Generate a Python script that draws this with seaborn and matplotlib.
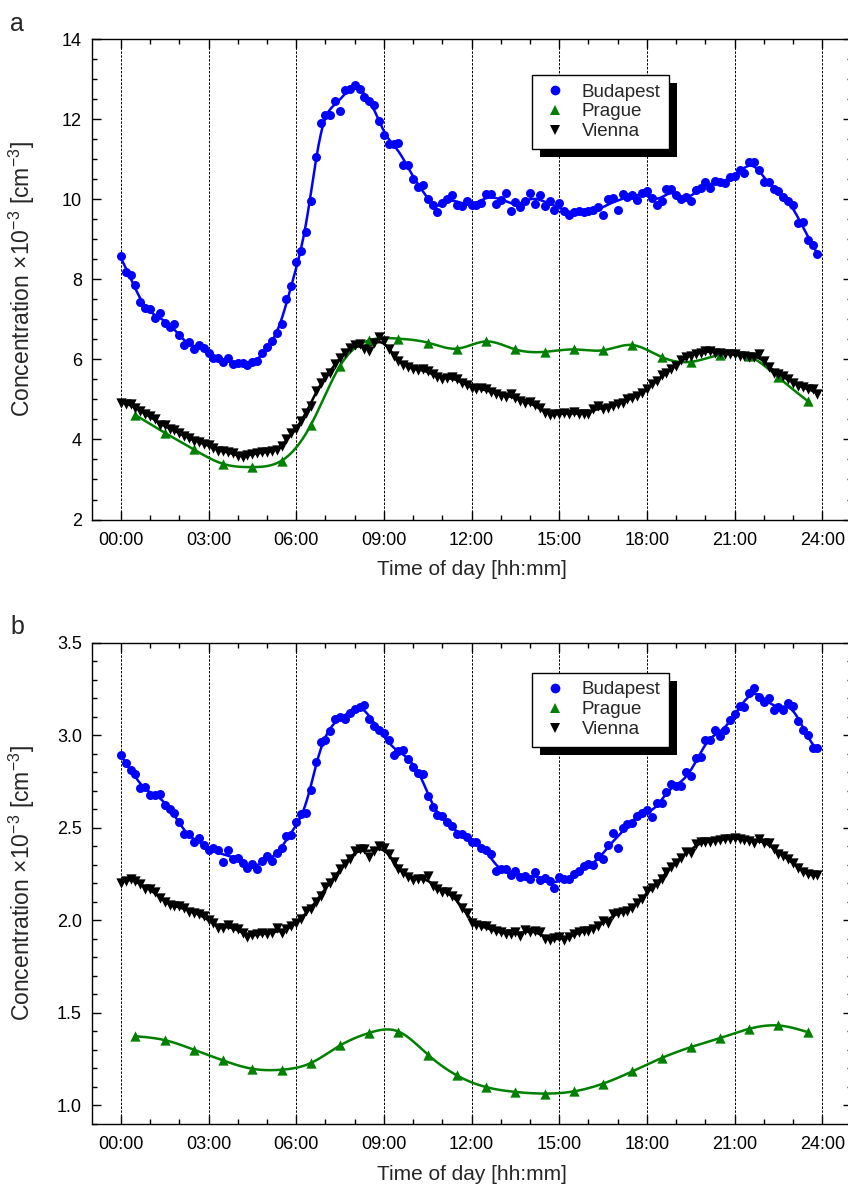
import numpy as np
import matplotlib
matplotlib.use("Agg")
import matplotlib.pyplot as plt
import seaborn as sns
from matplotlib.lines import Line2D
from matplotlib.patches import Rectangle
from matplotlib.ticker import MultipleLocator, FixedLocator, FuncFormatter

# ---------------------------------------------------------------------------
# Diurnal profiles: 10-minute means (00:00 ... 23:50) for Budapest and Vienna,
# hourly means (centred on xx:30) for Prague.
# ---------------------------------------------------------------------------
t10 = np.arange(144) / 6.0
t60 = np.arange(24) + 0.5

budapest_a = [
    8.58, 8.19, 8.12, 7.86, 7.43, 7.28, 7.25, 7.03, 7.17, 6.91, 6.80, 6.88,
    6.61, 6.37, 6.44, 6.27, 6.36, 6.28, 6.17, 6.03, 6.03, 5.93, 6.03, 5.88,
    5.90, 5.90, 5.86, 5.94, 5.95, 6.17, 6.31, 6.46, 6.66, 6.88, 7.50, 7.84,
    8.44, 8.70, 9.18, 9.96, 11.05, 11.92, 12.12, 12.10, 12.47, 12.22, 12.74, 12.77,
    12.86, 12.77, 12.56, 12.46, 12.36, 11.96, 11.62, 11.38, 11.38, 11.41, 10.87, 10.86,
    10.52, 10.32, 10.35, 10.02, 9.86, 9.68, 9.91, 10.00, 10.11, 9.87, 9.83, 9.97,
    9.86, 9.87, 9.92, 10.14, 10.14, 9.88, 9.99, 10.17, 9.72, 9.93, 9.82, 9.95,
    10.16, 9.88, 10.12, 9.83, 9.97, 9.74, 9.92, 9.72, 9.61, 9.68, 9.72, 9.68,
    9.72, 9.74, 9.82, 9.61, 10.01, 10.03, 9.74, 10.14, 10.06, 10.12, 9.99, 10.16,
    10.22, 10.03, 9.87, 9.96, 10.25, 10.25, 10.12, 10.02, 10.07, 9.96, 10.24, 10.29,
    10.43, 10.29, 10.47, 10.43, 10.41, 10.57, 10.59, 10.74, 10.66, 10.93, 10.93, 10.74,
    10.43, 10.43, 10.25, 10.20, 10.06, 9.97, 9.85, 9.40, 9.43, 8.99, 8.87, 8.64,
]

vienna_a = [
    4.92, 4.88, 4.88, 4.79, 4.71, 4.63, 4.58, 4.50, 4.37, 4.36, 4.25, 4.24,
    4.17, 4.08, 4.04, 3.97, 3.94, 3.89, 3.86, 3.79, 3.72, 3.71, 3.69, 3.67,
    3.58, 3.56, 3.61, 3.64, 3.67, 3.68, 3.69, 3.72, 3.73, 3.83, 4.00, 4.17,
    4.25, 4.46, 4.67, 4.84, 5.21, 5.42, 5.55, 5.67, 5.88, 6.03, 6.17, 6.28,
    6.36, 6.38, 6.25, 6.20, 6.42, 6.55, 6.45, 6.25, 6.09, 5.95, 5.86, 5.81,
    5.77, 5.73, 5.75, 5.71, 5.63, 5.56, 5.50, 5.53, 5.56, 5.50, 5.42, 5.36,
    5.29, 5.25, 5.29, 5.25, 5.19, 5.14, 5.09, 5.06, 5.14, 5.03, 4.96, 4.92,
    4.94, 4.85, 4.79, 4.67, 4.61, 4.64, 4.64, 4.67, 4.64, 4.69, 4.64, 4.63,
    4.63, 4.75, 4.83, 4.75, 4.79, 4.83, 4.89, 4.92, 5.00, 5.04, 5.09, 5.17,
    5.25, 5.38, 5.46, 5.61, 5.65, 5.75, 5.84, 5.98, 6.05, 6.09, 6.13, 6.17,
    6.20, 6.21, 6.17, 6.15, 6.13, 6.13, 6.13, 6.09, 6.09, 6.06, 6.05, 6.13,
    5.96, 5.80, 5.67, 5.63, 5.59, 5.50, 5.42, 5.34, 5.31, 5.25, 5.25, 5.14,
]

prague_a = [
    4.61, 4.17, 3.75, 3.39, 3.31, 3.47, 4.36, 5.84, 6.48, 6.52, 6.42, 6.27,
    6.45, 6.25, 6.19, 6.25, 6.23, 6.36, 6.06, 5.94, 6.12, 6.08, 5.55, 4.96,
]

budapest_b = [
    2.891, 2.850, 2.812, 2.793, 2.717, 2.721, 2.678, 2.676, 2.685, 2.624, 2.599, 2.579,
    2.531, 2.469, 2.469, 2.425, 2.443, 2.405, 2.380, 2.389, 2.380, 2.317, 2.380, 2.333,
    2.338, 2.311, 2.283, 2.303, 2.279, 2.322, 2.347, 2.319, 2.362, 2.392, 2.455, 2.459,
    2.531, 2.577, 2.579, 2.706, 2.855, 2.965, 2.976, 3.021, 3.085, 3.098, 3.087, 3.119,
    3.141, 3.152, 3.165, 3.087, 3.051, 3.026, 3.011, 2.972, 2.895, 2.913, 2.918, 2.872,
    2.829, 2.796, 2.793, 2.670, 2.613, 2.568, 2.562, 2.530, 2.509, 2.469, 2.464, 2.451,
    2.423, 2.423, 2.392, 2.380, 2.356, 2.267, 2.275, 2.275, 2.243, 2.267, 2.236, 2.240,
    2.225, 2.263, 2.218, 2.231, 2.213, 2.173, 2.236, 2.222, 2.225, 2.249, 2.267, 2.294,
    2.303, 2.297, 2.347, 2.333, 2.405, 2.473, 2.392, 2.500, 2.518, 2.527, 2.563, 2.581,
    2.595, 2.559, 2.635, 2.635, 2.692, 2.739, 2.728, 2.724, 2.800, 2.778, 2.877, 2.882,
    2.976, 2.976, 3.026, 2.997, 3.030, 3.080, 3.116, 3.159, 3.152, 3.227, 3.254, 3.209,
    3.182, 3.200, 3.137, 3.152, 3.137, 3.173, 3.159, 3.075, 3.030, 3.003, 2.931, 2.931,
]

vienna_b = [
    2.200, 2.213, 2.225, 2.213, 2.195, 2.171, 2.168, 2.153, 2.123, 2.100, 2.082, 2.075,
    2.075, 2.069, 2.046, 2.039, 2.033, 2.021, 2.003, 1.985, 1.956, 1.961, 1.974, 1.961,
    1.952, 1.931, 1.908, 1.920, 1.926, 1.931, 1.926, 1.931, 1.956, 1.931, 1.952, 1.970,
    1.988, 2.006, 2.051, 2.060, 2.100, 2.132, 2.182, 2.204, 2.236, 2.276, 2.303, 2.329,
    2.374, 2.383, 2.383, 2.343, 2.374, 2.401, 2.392, 2.356, 2.315, 2.275, 2.258, 2.236,
    2.216, 2.222, 2.225, 2.240, 2.186, 2.168, 2.153, 2.153, 2.132, 2.114, 2.069, 2.042,
    1.988, 1.974, 1.967, 1.967, 1.952, 1.944, 1.935, 1.926, 1.926, 1.935, 1.917, 1.949,
    1.935, 1.944, 1.935, 1.899, 1.896, 1.903, 1.908, 1.896, 1.908, 1.926, 1.935, 1.944,
    1.943, 1.952, 1.970, 1.997, 1.988, 2.033, 2.042, 2.046, 2.051, 2.064, 2.096, 2.114,
    2.159, 2.177, 2.195, 2.225, 2.261, 2.290, 2.312, 2.338, 2.369, 2.362, 2.410, 2.423,
    2.423, 2.423, 2.428, 2.434, 2.437, 2.441, 2.446, 2.441, 2.434, 2.428, 2.416, 2.437,
    2.419, 2.419, 2.383, 2.356, 2.347, 2.333, 2.312, 2.285, 2.261, 2.249, 2.243, 2.243,
]

prague_b = [
    1.374, 1.353, 1.301, 1.243, 1.198, 1.193, 1.229, 1.324, 1.392, 1.399, 1.275, 1.162,
    1.099, 1.073, 1.064, 1.076, 1.118, 1.184, 1.256, 1.315, 1.364, 1.414, 1.432, 1.396,
]

city_names = ["Budapest", "Prague", "Vienna"]
hour_ticks = list(range(0, 25, 3))


def local_quadratic(x, y, grid, bw):
    """Gaussian-weighted local quadratic regression."""
    x = np.asarray(x, float)
    y = np.asarray(y, float)
    out = np.empty(len(grid))
    for i, g in enumerate(grid):
        d = x - g
        w = np.exp(-0.5 * (d / bw) ** 2)
        X = np.column_stack([np.ones_like(d), d, d * d])
        XW = X * w[:, None]
        beta = np.linalg.solve(X.T @ XW, XW.T @ y)
        out[i] = beta[0]
    return out


def natural_spline(x, y, grid):
    """Natural cubic spline through (x, y), evaluated on grid."""
    x = np.asarray(x, float)
    y = np.asarray(y, float)
    n = len(x)
    h = np.diff(x)
    A = np.zeros((n, n))
    r = np.zeros(n)
    A[0, 0] = A[-1, -1] = 1.0
    for i in range(1, n - 1):
        A[i, i - 1] = h[i - 1]
        A[i, i] = 2 * (h[i - 1] + h[i])
        A[i, i + 1] = h[i]
        r[i] = 3 * ((y[i + 1] - y[i]) / h[i] - (y[i] - y[i - 1]) / h[i - 1])
    c = np.linalg.solve(A, r)
    b = (y[1:] - y[:-1]) / h - h * (2 * c[:-1] + c[1:]) / 3
    d = (c[1:] - c[:-1]) / (3 * h)
    idx = np.clip(np.searchsorted(x, grid) - 1, 0, n - 2)
    dx = grid - x[idx]
    return y[idx] + b[idx] * dx + c[idx] * dx ** 2 + d[idx] * dx ** 3


sns.set_style("ticks")
plt.rcParams["font.family"] = ["Liberation Sans", "DejaVu Sans"]
plt.rcParams["mathtext.fontset"] = "custom"
plt.rcParams["mathtext.rm"] = "Liberation Sans"
plt.rcParams["mathtext.it"] = "Liberation Sans:italic"
plt.rcParams["mathtext.bf"] = "Liberation Sans:bold"

BLUE = "#0000ff"
GREEN = "#008000"
BLACK = "#000000"

fig = plt.figure(figsize=(8.48, 11.91), dpi=100)
ax_a = fig.add_axes([0.108, 0.5638, 0.8962, 0.4032])
ax_b = fig.add_axes([0.108, 0.0563, 0.8962, 0.4041])

panels = [
    (ax_a, budapest_a, prague_a, vienna_a, (2, 14), 2, 0.5, "a", 0.9257),
    (ax_b, budapest_b, prague_b, vienna_b, (0.9, 3.5), 0.5, 0.1, "b", 0.9377),
]

grid10 = np.linspace(t10[0], t10[-1], 600)
grid60 = np.linspace(t60[0], t60[-1], 600)

for ax, bud, pra, vie, ylim, ymaj, ymin, tag, leg_y in panels:
    for h in hour_ticks:
        ax.axvline(h, color="black", lw=0.7, ls=(0, (2.5, 1.5)), zorder=0.5)

    # smoothed curves
    sns.lineplot(x=grid10, y=local_quadratic(t10, bud, grid10, 0.33),
                 color=BLUE, lw=1.8, ax=ax, zorder=2)
    sns.lineplot(x=grid60, y=natural_spline(t60, pra, grid60),
                 color=GREEN, lw=1.8, ax=ax, zorder=2)
    sns.lineplot(x=grid10, y=local_quadratic(t10, vie, grid10, 0.33),
                 color=BLACK, lw=1.8, ax=ax, zorder=2)

    # measured means
    sns.scatterplot(x=t10, y=bud, marker="o", color=BLUE, s=42,
                    linewidth=0, ax=ax, zorder=3)
    sns.scatterplot(x=t60, y=pra, marker="^", color=GREEN, s=55,
                    linewidth=0, ax=ax, zorder=3)
    sns.scatterplot(x=t10, y=vie, marker="v", color=BLACK, s=55,
                    linewidth=0, ax=ax, zorder=4)

    ax.set_xlim(-1, 25)
    ax.set_ylim(*ylim)
    ax.xaxis.set_major_locator(FixedLocator(hour_ticks))
    ax.xaxis.set_minor_locator(FixedLocator([h for h in range(0, 25) if h % 3]))
    ax.xaxis.set_major_formatter(FuncFormatter(lambda v, p: f"{int(round(v)):02d}:00"))
    ax.yaxis.set_major_locator(MultipleLocator(ymaj))
    ax.yaxis.set_minor_locator(MultipleLocator(ymin))
    if tag == "b":
        ax.yaxis.set_major_formatter(FuncFormatter(lambda v, p: f"{v:.1f}"))
    else:
        ax.yaxis.set_major_formatter(FuncFormatter(lambda v, p: f"{v:g}"))

    ax.tick_params(which="both", direction="in", top=True, right=True,
                   width=1.0, labelsize=13, colors="black")
    ax.tick_params(which="major", length=6.5)
    ax.tick_params(which="minor", length=3.5)
    ax.tick_params(axis="x", which="major", pad=9)
    ax.tick_params(axis="y", which="major", pad=7)
    for sp in ax.spines.values():
        sp.set_visible(True)
        sp.set_linewidth(1.0)
        sp.set_color("black")

    ax.set_xlabel("Time of day [hh:mm]", fontsize=15, labelpad=8)
    ax.set_ylabel("Concentration \u00d710$^{-3}$ [cm$^{-3}$]", fontsize=16.5)
    ax.yaxis.set_label_coords(-0.072, 0.5)

    handles = [
        Line2D([], [], ls="none", marker="o", color=BLUE, markersize=7, markeredgewidth=0),
        Line2D([], [], ls="none", marker="^", color=GREEN, markersize=7.5, markeredgewidth=0),
        Line2D([], [], ls="none", marker="v", color=BLACK, markersize=7.5, markeredgewidth=0),
    ]
    leg = ax.legend(handles, city_names, loc="upper left",
                    bbox_to_anchor=(0.5795, leg_y), borderaxespad=0,
                    fontsize=13.5, frameon=True, fancybox=False, shadow=False,
                    framealpha=1, edgecolor="black", handletextpad=0.6,
                    labelspacing=0.15, borderpad=0.45, handlelength=1.6)
    leg.get_frame().set_linewidth(1.0)
    leg.set_zorder(10)

    fig.text(0.012, ax.get_position().y1 + 0.003, tag, fontsize=18,
             ha="left", va="bottom")

# drop shadows behind the legends
fig.canvas.draw()
for ax in (ax_a, ax_b):
    leg = ax.get_legend()
    bb = leg.get_window_extent().transformed(ax.transAxes.inverted())
    dx = 8 / ax.bbox.width
    dy = 8 / ax.bbox.height
    ax.add_patch(Rectangle((bb.x0 + dx, bb.y0 - dy), bb.width, bb.height,
                           transform=ax.transAxes, facecolor="black",
                           edgecolor="none", zorder=9.5, clip_on=False))

fig.savefig("out.png", dpi=100)
